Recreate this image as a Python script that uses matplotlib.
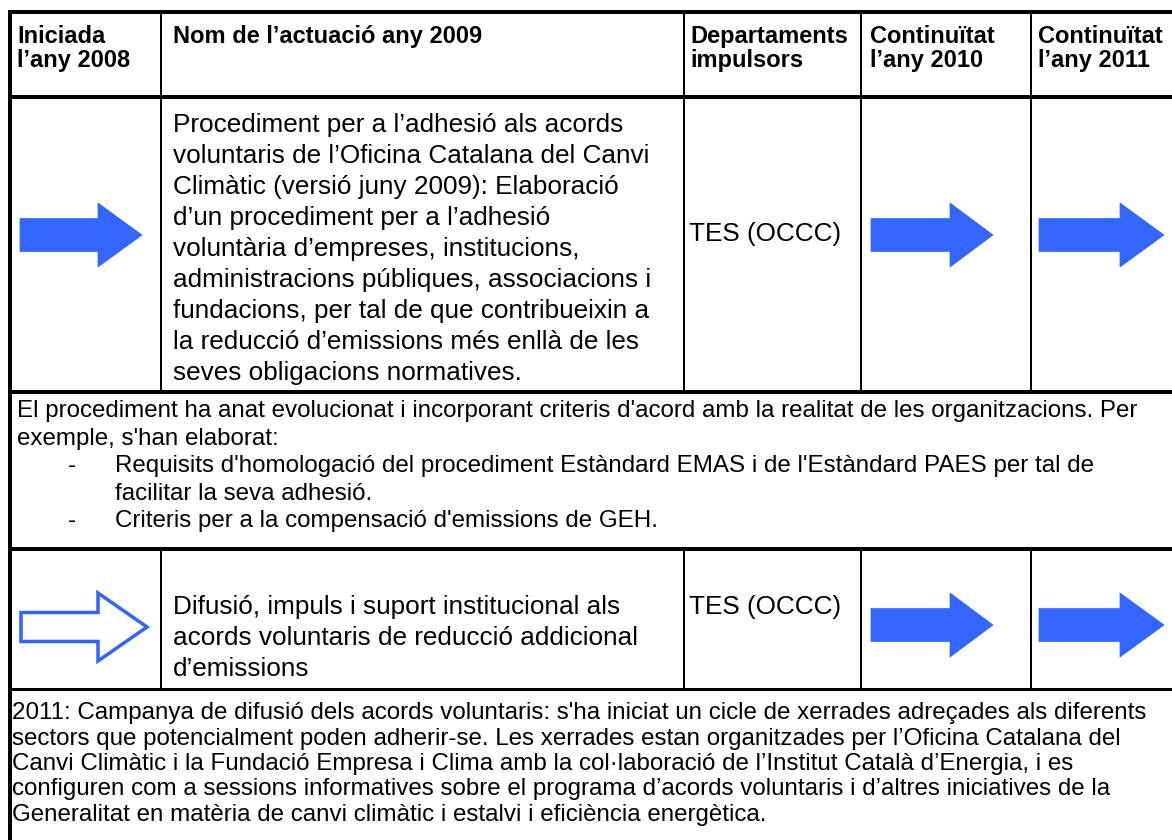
import matplotlib.pyplot as plt
from matplotlib.patches import Polygon

plt.rcParams['font.family'] = ['Liberation Sans', 'DejaVu Sans']

# textos de la taula
capcalera = [['Iniciada', 'l\u2019any 2008'],
             ['Nom de l\u2019actuació any 2009'],
             ['Departaments', 'impulsors'],
             ['Continuïtat', 'l\u2019any 2010'],
             ['Continuïtat', 'l\u2019any 2011']]

actuacio_1 = ['Procediment per a l\u2019adhesió als acords',
              'voluntaris de l\u2019Oficina Catalana del Canvi',
              'Climàtic (versió juny 2009): Elaboració',
              'd\u2019un procediment per a l\u2019adhesió',
              'voluntària d\u2019empreses, institucions,',
              'administracions públiques, associacions i',
              'fundacions, per tal de que contribueixin a',
              'la reducció d\u2019emissions més enllà de les',
              'seves obligacions normatives.']

nota_1 = ["El procediment ha anat evolucionat i incorporant criteris d'acord amb la realitat de les organitzacions. Per",
          "exemple, s'han elaborat:"]
nota_1_punts = [["Requisits d'homologació del procediment Estàndard EMAS i de l'Estàndard PAES per tal de",
                 "facilitar la seva adhesió."],
                ["Criteris per a la compensació d'emissions de GEH."]]

actuacio_2 = ['Difusió, impuls i suport institucional als',
              'acords voluntaris de reducció addicional',
              'd\u2019emissions']

nota_2 = ['2011: Campanya de difusió dels acords voluntaris: s\'ha iniciat un cicle de xerrades adreçades als diferents',
          'sectors que potencialment poden adherir-se. Les xerrades estan organitzades per l\u2019Oficina Catalana del',
          'Canvi Climàtic i la Fundació Empresa i Clima amb la col·laboració de l\u2019Institut Català d\u2019Energia, i es',
          'configuren com a sessions informatives sobre el programa d\u2019acords voluntaris i d\u2019altres iniciatives de la',
          'Generalitat en matèria de canvi climàtic i estalvi i eficiència energètica.']

departament = ['TES (OCCC)', 'TES (OCCC)']
# estat de les fletxes: 2008, 2010, 2011 (True = ple, False = buit)
fletxes_1 = [True, True, True]
fletxes_2 = [False, True, True]

blau = '#3366FF'
W, H = 1172, 840
px = 0.72  # punts per píxel a 100 dpi

fig = plt.figure(figsize=(W / 100, H / 100), dpi=100)
ax = fig.add_axes([0, 0, 1, 1])
ax.set_xlim(0, W)
ax.set_ylim(H, 0)
ax.axis('off')

# columnes i files
cols = [161, 684, 861, 1031]
y_top, y_cap, y_r1, y_n1, y_r2 = 12, 97, 392, 549, 689

def hline(y, lw):
    ax.plot([8, W], [y, y], color='black', lw=lw * px, solid_capstyle='butt')

hline(y_top, 4)
hline(y_cap, 4)
hline(y_r1, 4)
hline(y_n1, 4)
hline(y_r2, 3)
ax.plot([10, 10], [10, H], color='black', lw=4 * px, solid_capstyle='butt')
for x in cols:
    ax.plot([x, x], [y_top, y_r1], color='black', lw=2 * px, solid_capstyle='butt')
    ax.plot([x, x], [y_n1, y_r2], color='black', lw=2 * px, solid_capstyle='butt')

# capçalera
fs_cap = 17
x_text = [17, 173, 690, 870, 1038]
for x, linies in zip(x_text, capcalera):
    for i, t in enumerate(linies):
        ax.text(x, 43 + i * 24, t, fontsize=fs_cap, fontweight='bold', va='baseline')

# actuacions
fs = 18.8
for i, t in enumerate(actuacio_1):
    ax.text(173, 132 + i * 31, t, fontsize=fs, va='baseline')
ax.text(689, 241, departament[0], fontsize=fs, va='baseline')

for i, t in enumerate(actuacio_2):
    ax.text(173, 614 + i * 31, t, fontsize=fs, va='baseline')
ax.text(689, 614, departament[1], fontsize=fs, va='baseline')

# notes
fs_n = 17.4
for i, t in enumerate(nota_1):
    ax.text(17, 417 + i * 27.5, t, fontsize=fs_n, va='baseline')
y = 417 + 2 * 27.5
for punt in nota_1_punts:
    ax.text(68, y, '-', fontsize=fs_n, va='baseline')
    for t in punt:
        ax.text(115, y, t, fontsize=fs_n, va='baseline')
        y += 27.5

for i, t in enumerate(nota_2):
    ax.text(12, 719 + i * 25.5, t, fontsize=fs_n, va='baseline')

def fletxa(x0, xb, xt, yc, hs, hh, ple):
    pts = [(x0, yc - hs), (xb, yc - hs), (xb, yc - hh), (xt, yc),
           (xb, yc + hh), (xb, yc + hs), (x0, yc + hs)]
    if ple:
        ax.add_patch(Polygon(pts, closed=True, facecolor=blau, edgecolor=blau, lw=0.5))
    else:
        ax.add_patch(Polygon(pts, closed=True, facecolor='white', edgecolor=blau, lw=3.5 * px))

pos_fletxes = [(20, 98, 142), (871, 950, 993), (1039, 1120, 1164)]
for (x0, xb, xt), ple in zip(pos_fletxes, fletxes_1):
    fletxa(x0, xb, xt, 235, 16.5, 32, ple)
pos_fletxes_2 = [(21, 98, 147), (871, 950, 993), (1039, 1120, 1164)]
for (x0, xb, xt), ple in zip(pos_fletxes_2, fletxes_2):
    if ple:
        fletxa(x0, xb, xt, 625, 16.5, 32, ple)
    else:
        fletxa(x0, xb, xt, 627, 14.5, 34, ple)

plt.savefig('out.png', dpi=100)
